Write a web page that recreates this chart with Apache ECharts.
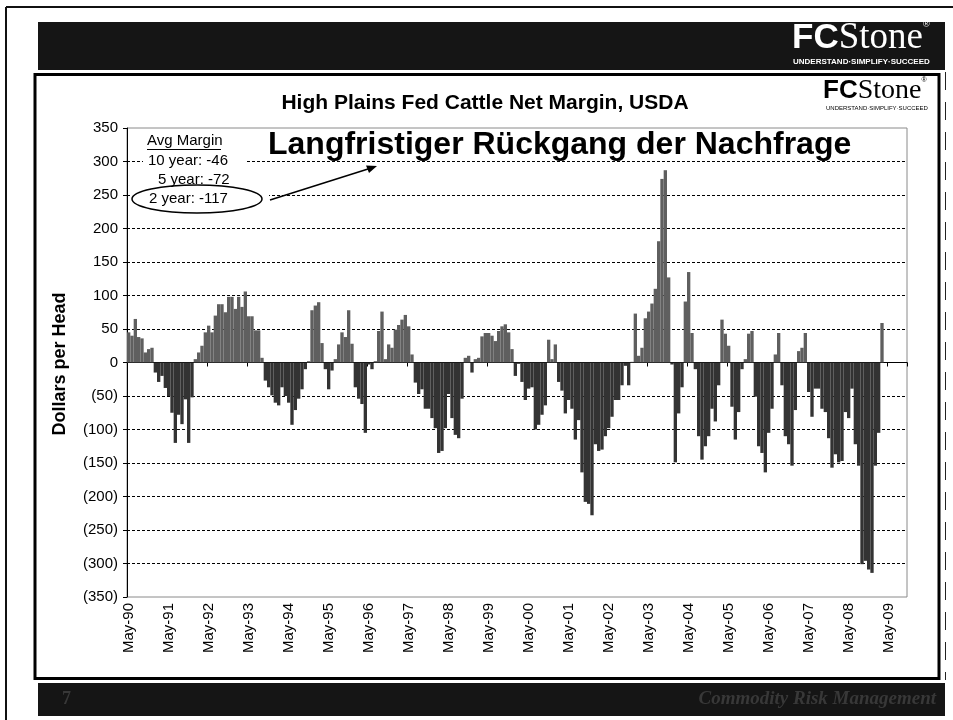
<!DOCTYPE html>
<html>
<head>
<meta charset="utf-8">
<script src="https://cdn.jsdelivr.net/npm/echarts@6/dist/echarts.min.js"></script>
<style>
  html, body { margin: 0; padding: 0; background: #fff; }
  #main { width: 953px; height: 720px; }
</style>
</head>
<body>
<div id="main"></div>
<script>
// monthly net margin, $/head, May..Apr of each crop year
const m1990 = [45, 40, 65, 38, 36, 15, 20, 22, -15, -29, -20, -38];
const m1991 = [-50, -75, -120, -78, -92, -55, -120, -52, 5, 15, 25, 45];
const m1992 = [55, 45, 70, 87, 87, 75, 98, 98, 80, 98, 83, 106];
const m1993 = [69, 69, 48, 48, 7, -27, -37, -49, -60, -64, -37, -50];
const m1994 = [-60, -93, -71, -54, -40, -10, 2, 78, 85, 90, 29, -10];
const m1995 = [-40, -12, 5, 27, 45, 38, 78, 28, -37, -54, -62, -105];
const m1996 = [-3, -10, 2, 47, 76, 5, 27, 22, 49, 56, 64, 71];
const m1997 = [54, 12, -30, -47, -40, -69, -69, -83, -98, -135, -132, -98];
const m1998 = [-47, -83, -108, -113, -54, 7, 10, -15, 5, 7, 39, 44];
const m1999 = [44, 40, 32, 47, 54, 57, 45, 20, -20, -2, -29, -56];
const m2000 = [-39, -37, -100, -93, -78, -64, 34, 5, 27, -29, -42, -76];
const m2001 = [-56, -69, -115, -86, -164, -208, -211, -228, -122, -132, -130, -110];
const m2002 = [-98, -81, -56, -56, -34, -5, -34, 1, 73, 10, 22, 66];
const m2003 = [76, 88, 110, 181, 274, 287, 127, -3, -149, -76, -37, 91];
const m2004 = [135, 44, -10, -110, -145, -125, -110, -69, -88, -34, 64, 43];
const m2005 = [25, -66, -115, -74, -10, 5, 43, 47, -51, -125, -135, -164];
const m2006 = [-105, -69, 12, 44, -34, -110, -122, -154, -71, 17, 22, 44];
const m2007 = [-44, -81, -39, -39, -69, -74, -113, -157, -137, -149, -147, -74];
const m2008 = [-83, -39, -122, -154, -301, -296, -309, -314, -154, -105, 59];

const margins = [].concat(m1990, m1991, m1992, m1993, m1994, m1995, m1996, m1997,
  m1998, m1999, m2000, m2001, m2002, m2003, m2004, m2005, m2006, m2007, m2008);

// month axis May-90 .. Oct-09
const monthNames = ['Jan','Feb','Mar','Apr','May','Jun','Jul','Aug','Sep','Oct','Nov','Dec'];
const months = [];
for (let i = 0; i < 234; i++) {
  const m = (4 + i) % 12;
  const y = 1990 + Math.floor((4 + i) / 12);
  months.push(monthNames[m] + '-' + String(y % 100).padStart(2, '0'));
}

const yTicks = { min: -350, max: 350, step: 50 };
const avgMargin = ['10 year: -46', '5 year: -72', '2 year: -117'];

const POS = '#5f5f5f';
const NEG = '#333333';
const SANS = '"Liberation Sans", Arial, sans-serif';
const SERIF = '"Liberation Serif", "Times New Roman", serif';

// dashed grid, but not on the top/bottom border
const gridColors = [];
for (let v = yTicks.min; v <= yTicks.max; v += yTicks.step) {
  gridColors.push(v === yTicks.min || v === yTicks.max ? 'rgba(0,0,0,0)' : '#000');
}

let myChart = echarts.init(document.getElementById('main'), null, { renderer: 'canvas' });

let option = {
  backgroundColor: '#fff',
  animation: false,
  grid: {
    left: 127, top: 128, width: 780, height: 469,
    show: true, borderColor: '#8a8a8a', borderWidth: 1, backgroundColor: 'transparent'
  },
  xAxis: [
    {
      type: 'category',
      data: months,
      position: 'bottom',
      axisLine: { show: false, onZero: false },
      axisTick: { show: false },
      axisLabel: {
        interval: 11, rotate: 90, margin: 6,
        color: '#000', fontFamily: SANS, fontSize: 15
      },
      splitLine: { show: false }
    },
    {
      type: 'category',
      data: months,
      position: 'bottom',
      axisLine: { show: true, onZero: true, lineStyle: { color: '#000', width: 1 } },
      axisTick: { show: true, interval: 11, length: 4, lineStyle: { color: '#000' } },
      axisLabel: { show: false },
      splitLine: { show: false }
    }
  ],
  yAxis: {
    type: 'value',
    min: yTicks.min, max: yTicks.max, interval: yTicks.step,
    axisLine: { show: true, lineStyle: { color: '#000', width: 1 } },
    axisTick: { show: true, length: 4, lineStyle: { color: '#000' } },
    axisLabel: {
      margin: 9, color: '#000', fontFamily: SANS, fontSize: 15,
      formatter: function (v) { return v < 0 ? '(' + (-v) + ')' : String(v); }
    },
    splitLine: {
      show: true,
      lineStyle: { color: gridColors, type: [3, 2], width: 1 }
    }
  },
  series: [{
    type: 'bar',
    xAxisIndex: 0,
    data: margins,
    barCategoryGap: '0%',
    itemStyle: {
      color: function (p) { return p.value >= 0 ? POS : NEG; }
    }
  }],
  graphic: [
    // slide frame
    { type: 'line', shape: { x1: 6, y1: 7, x2: 953, y2: 7 }, style: { stroke: '#111', lineWidth: 2 } },
    { type: 'line', shape: { x1: 6, y1: 7, x2: 6, y2: 720 }, style: { stroke: '#111', lineWidth: 2 } },
    { type: 'line', shape: { x1: 945.5, y1: 72, x2: 945.5, y2: 680 }, style: { stroke: '#222', lineWidth: 1, lineDash: [18, 12] } },
    // header band
    { type: 'rect', shape: { x: 38, y: 22, width: 907, height: 48 }, style: { fill: '#151515' } },
    {
      type: 'text', x: 792, y: 20,
      style: {
        text: '{a|FC}{b|Stone}{c|®}',
        rich: {
          a: { font: 'bold 35px ' + SANS, fill: '#fff' },
          b: { font: '37px ' + SERIF, fill: '#fff' },
          c: { font: '9px ' + SANS, fill: '#fff', verticalAlign: 'top' }
        }
      }
    },
    { type: 'text', x: 793, y: 58, style: { text: 'UNDERSTAND·SIMPLIFY·SUCCEED', font: 'bold 8px ' + SANS, fill: '#fff' } },
    // chart box
    { type: 'rect', shape: { x: 35, y: 74.5, width: 904, height: 604 }, style: { fill: 'none', stroke: '#000', lineWidth: 3 } },
    // footer band
    { type: 'rect', shape: { x: 38, y: 683, width: 907, height: 33 }, style: { fill: '#151515' } },
    { type: 'text', x: 62, y: 699, style: { text: '7', font: 'bold 18px ' + SERIF, fill: '#383838', verticalAlign: 'middle' } },
    { type: 'text', x: 936, y: 699, style: { text: 'Commodity Risk Management', font: 'italic bold 19px ' + SERIF, fill: '#383838', align: 'right', verticalAlign: 'middle' } },
    // chart title
    { type: 'text', x: 485, y: 103, style: { text: 'High Plains Fed Cattle Net Margin, USDA', font: 'bold 21px ' + SANS, fill: '#000', align: 'center', verticalAlign: 'middle' } },
    // inner logo
    {
      type: 'text', x: 823, y: 77,
      style: {
        text: '{a|FC}{b|Stone}{c|®}',
        rich: {
          a: { font: 'bold 26px ' + SANS, fill: '#000' },
          b: { font: '28px ' + SERIF, fill: '#000' },
          c: { font: '7px ' + SANS, fill: '#000', verticalAlign: 'top' }
        }
      }
    },
    { type: 'text', x: 826, y: 105, style: { text: 'UNDERSTAND·SIMPLIFY·SUCCEED', font: '6px ' + SANS, fill: '#000' } },
    // y axis name
    { type: 'text', x: 60, y: 364, rotation: Math.PI / 2, style: { text: 'Dollars per Head', font: 'bold 18px ' + SANS, fill: '#000', align: 'center', verticalAlign: 'middle' } },
    // annotation: white boxes hide the grid under the text
    { type: 'rect', z: 100, shape: { x: 143, y: 132, width: 102, height: 58 }, style: { fill: '#fff' } },
    { type: 'rect', z: 100, shape: { x: 131, y: 189, width: 138, height: 22 }, style: { fill: '#fff' } },
    { type: 'text', z: 101, x: 268, y: 145, style: { text: 'Langfristiger Rückgang der Nachfrage', font: 'bold 32px ' + SANS, fill: '#000', verticalAlign: 'middle' } },
    { type: 'text', z: 101, x: 147, y: 141, style: { text: 'Avg Margin', font: '15px ' + SANS, fill: '#000', verticalAlign: 'middle' } },
    { type: 'line', z: 101, shape: { x1: 147, y1: 149.5, x2: 221, y2: 149.5 }, style: { stroke: '#000', lineWidth: 1 } },
    { type: 'text', z: 101, x: 148, y: 161, style: { text: avgMargin[0], font: '15px ' + SANS, fill: '#000', verticalAlign: 'middle' } },
    { type: 'text', z: 101, x: 158, y: 180, style: { text: avgMargin[1], font: '15px ' + SANS, fill: '#000', verticalAlign: 'middle' } },
    { type: 'text', z: 101, x: 149, y: 199, style: { text: avgMargin[2], font: '15px ' + SANS, fill: '#000', verticalAlign: 'middle' } },
    { type: 'ellipse', z: 101, shape: { cx: 197, cy: 199, rx: 65, ry: 14 }, style: { fill: 'none', stroke: '#000', lineWidth: 1.5 } },
    { type: 'line', z: 101, shape: { x1: 270, y1: 200, x2: 368, y2: 169 }, style: { stroke: '#000', lineWidth: 1.5 } },
    { type: 'polygon', z: 101, shape: { points: [[377, 166], [366, 165.5], [369, 173]] }, style: { fill: '#000' } }
  ]
};

myChart.setOption(option);
</script>
</body>
</html>
